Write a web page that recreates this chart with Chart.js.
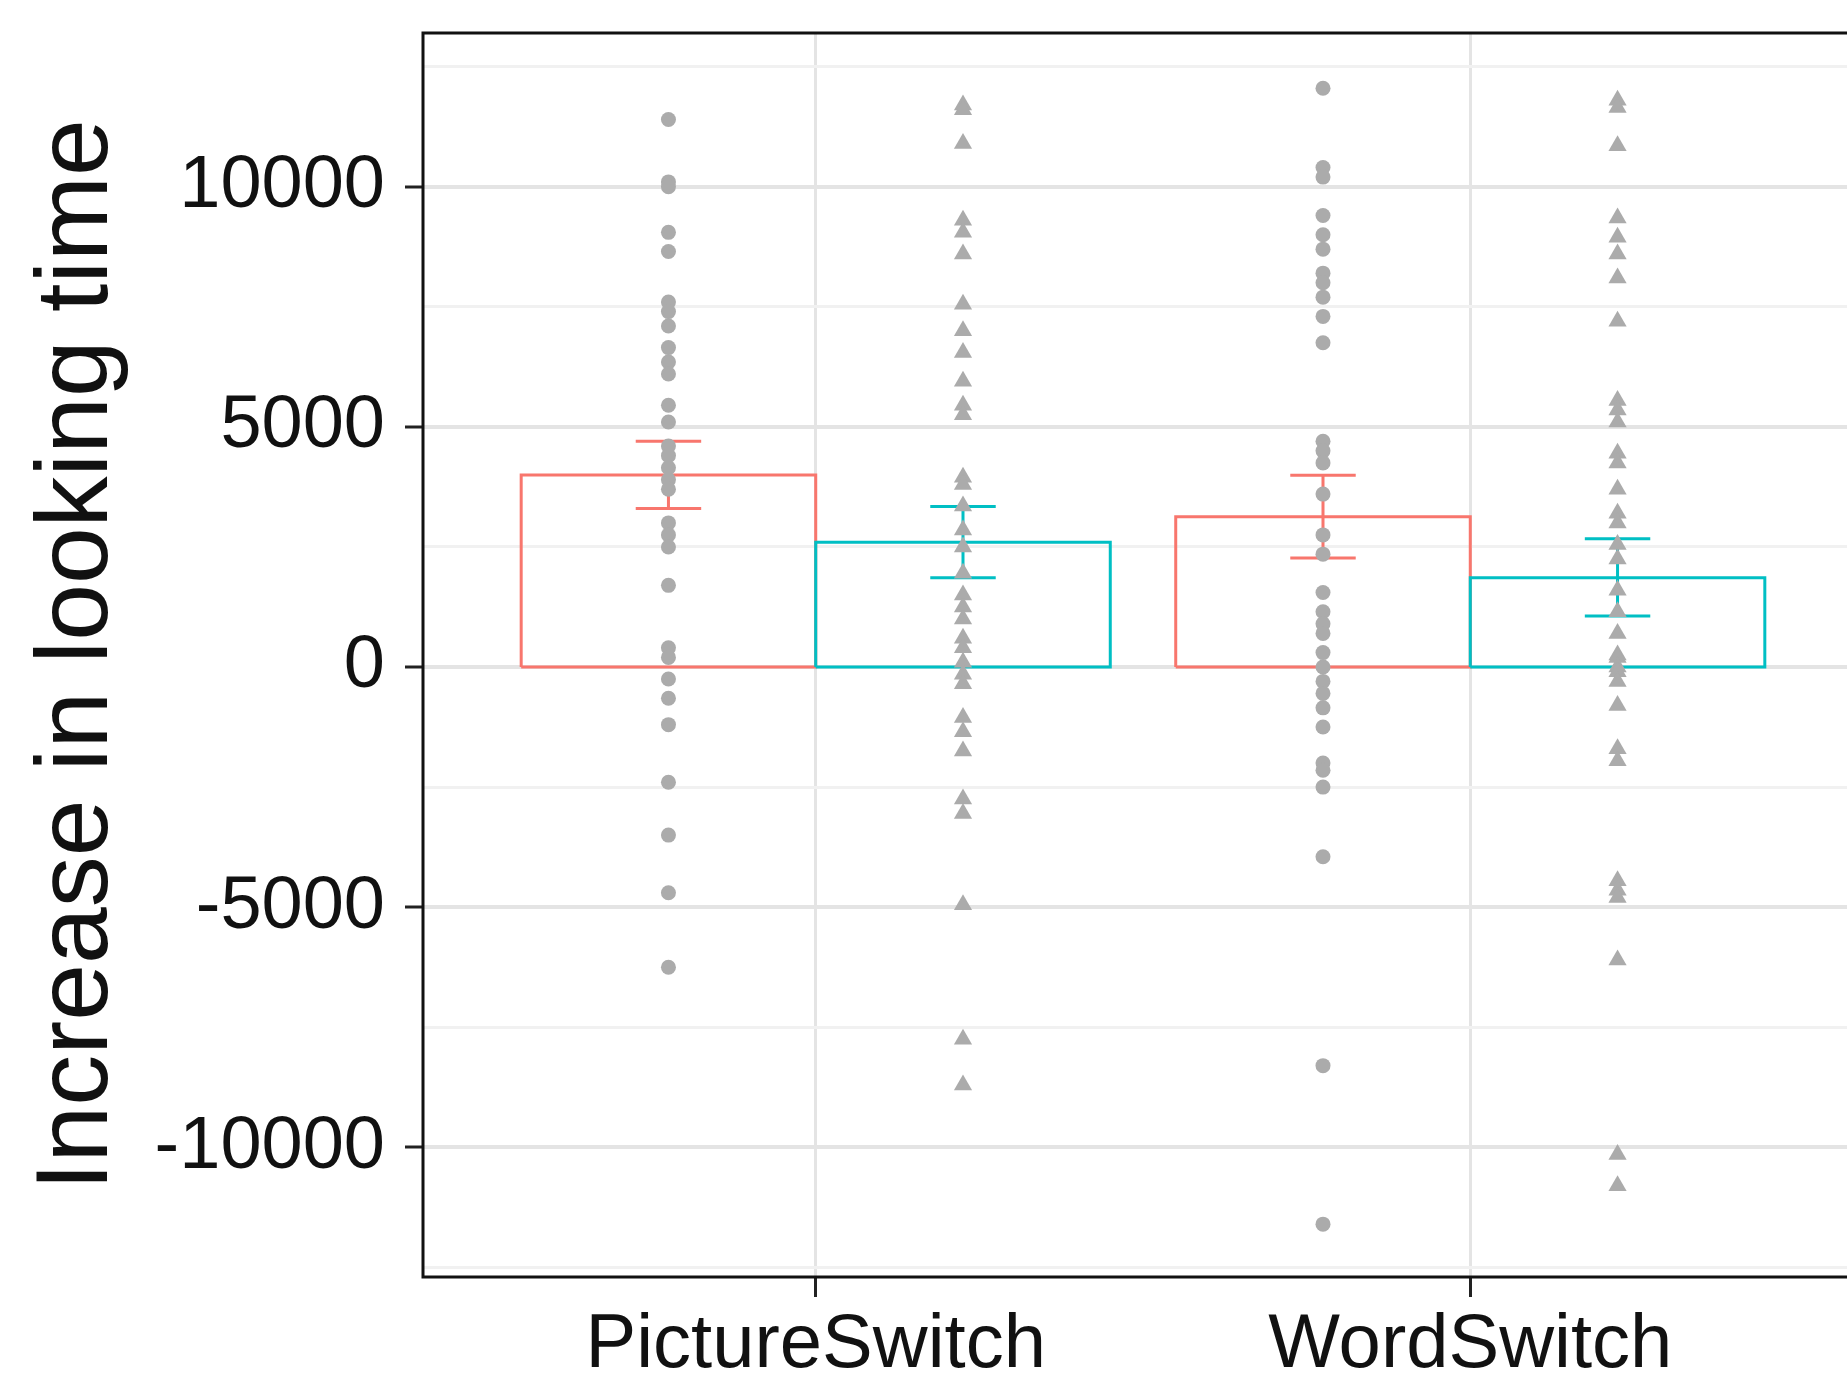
<!DOCTYPE html>
<html>
<head>
<meta charset="utf-8">
<script src="https://cdn.jsdelivr.net/npm/chart.js@4.4.1/dist/chart.umd.min.js"></script>
<style>
  html, body { margin: 0; padding: 0; background: #fff; overflow: hidden; }
  #wrap { width: 1880px; height: 1375px; }
</style>
</head>
<body>
<div id="wrap"><canvas id="chart" width="1880" height="1375"></canvas></div>
<script>
// categories on the x axis
const categories = ['PictureSwitch', 'WordSwitch'];
// y grid positions (labelled every 5000, minor lines between)
const yTicks = [-12500, -10000, -7500, -5000, -2500, 0, 2500, 5000, 7500, 10000, 12500];

// bar means and error bar ends (red = circles, cyan = triangles)
const meanRed = [4000, 3130];
const lowRed = [3300, 2270];
const highRed = [4700, 3990];
const meanCyan = [2600, 1860];
const lowCyan = [1860, 1060];
const highCyan = [3340, 2670];

const redPicture = [11400, 10100, 10000, 9050, 8650, 7600, 7400, 7100, 6650, 6350, 6100, 5450, 5100,
  4600, 4400, 4150, 3900, 3700, 3000, 2750, 2500, 1700, 400, 200, -250, -650, -1200, -2400, -3500, -4700, -6250];
const cyanPicture = [11700, 11600, 10900, 9300, 9050, 8600, 7550, 7000, 6550, 5950, 5450, 5250, 3950, 3800,
  3350, 2850, 2500, 1950, 1500, 1250, 1000, 600, 400, 100, -150, -350, -1050, -1350, -1750, -2750, -3050,
  -4950, -7750, -8700];
const redWord = [12050, 10400, 10200, 9400, 9000, 8700, 8200, 8000, 7700, 7300, 6750, 4700, 4500, 4250, 3600,
  2750, 2350, 1550, 1150, 900, 700, 300, 0, -300, -550, -850, -1250, -2000, -2150, -2500, -3950, -8300, -11600];
const cyanWord = [11800, 11650, 10850, 9350, 8950, 8600, 8100, 7200, 5550, 5350, 5100, 4450, 4250, 3700, 3200,
  3000, 2550, 2250, 1600, 1150, 700, 250, 200, 0, -100, -300, -800, -1700, -1950, -4450, -4650, -4800, -6100,
  -10150, -10800];

const RED = '#F8766D';
const CYAN = '#00BFC4';
const GREY_PT = '#ababab';
const FONT = "'Liberation Sans', Arial, sans-serif";

const dodge = 0.225;   // half of the bar width, in category units
const whisker = 0.05;  // half width of the error bar caps

// rectangle outline for one bar, built from its category index and mean
const barPath = (i, off, m) => {
  const x0 = i + 1 + off - dodge, x1 = i + 1 + off + dodge;
  return [{x: x0, y: 0}, {x: x0, y: m}, {x: x1, y: m}, {x: x1, y: 0}, {x: x0, y: 0}];
};
const errPath = (i, off, lo, hi) => {
  const x = i + 1 + off;
  return [{x: x - whisker, y: lo}, {x: x + whisker, y: lo}, {x: x, y: lo}, {x: x, y: hi},
    {x: x - whisker, y: hi}, {x: x + whisker, y: hi}];
};
const pts = (i, off, arr) => arr.map(v => ({x: i + 1 + off, y: v}));
const isMajor = v => v % 5000 === 0;

const datasets = [];
// points on top
[[0, -dodge, redPicture, 'circle'], [0, dodge, cyanPicture, 'triangle'],
 [1, -dodge, redWord, 'circle'], [1, dodge, cyanWord, 'triangle']].forEach(([i, off, arr, shape]) => {
  datasets.push({
    data: pts(i, off, arr), order: 0, pointStyle: shape,
    pointRadius: shape === 'circle' ? 7.5 : 10.5, pointBorderWidth: 0,
    pointBackgroundColor: GREY_PT, showLine: false
  });
});
// error bars
categories.forEach((c, i) => {
  datasets.push({ data: errPath(i, -dodge, lowRed[i], highRed[i]), order: 1, showLine: true,
    borderColor: RED, borderWidth: 3, pointRadius: 0, fill: false });
  datasets.push({ data: errPath(i, dodge, lowCyan[i], highCyan[i]), order: 1, showLine: true,
    borderColor: CYAN, borderWidth: 3, pointRadius: 0, fill: false });
});
// hollow bars (white fill hides the grid)
categories.forEach((c, i) => {
  datasets.push({ data: barPath(i, -dodge, meanRed[i]), order: 3, showLine: true,
    borderColor: RED, borderWidth: 3, pointRadius: 0, fill: 'origin', backgroundColor: '#fff' });
  datasets.push({ data: barPath(i, dodge, meanCyan[i]), order: 2, showLine: true,
    borderColor: CYAN, borderWidth: 3, pointRadius: 0, fill: 'origin', backgroundColor: '#fff' });
});

// black frame round the panel
const panelBorder = {
  id: 'panelBorder',
  afterDraw(chart) {
    const {ctx, chartArea: a} = chart;
    ctx.save();
    ctx.strokeStyle = '#111';
    ctx.lineWidth = 3;
    ctx.strokeRect(a.left, a.top, a.right - a.left, a.bottom - a.top);
    ctx.restore();
  }
};

new Chart(document.getElementById('chart'), {
  type: 'scatter',
  data: { datasets },
  plugins: [panelBorder],
  options: {
    responsive: false,
    animation: false,
    devicePixelRatio: 1,
    layout: { padding: { top: 33, right: 17, left: 0, bottom: 0 } },
    plugins: { legend: { display: false }, tooltip: { enabled: false } },
    elements: { line: { tension: 0 } },
    scales: {
      x: {
        type: 'linear', min: 0.4, max: 2.6,
        afterBuildTicks: s => { s.ticks = categories.map((c, i) => ({value: i + 1})); },
        afterFit: s => { s.height = 98; s.paddingLeft = 0; s.paddingRight = 0; },
        border: { display: false },
        grid: { color: '#e4e4e4', lineWidth: 3, tickLength: 20, tickColor: '#222', tickWidth: 3 },
        ticks: {
          autoSkip: false, maxRotation: 0, padding: 3, color: '#111',
          font: { family: FONT, size: 76 },
          callback: v => categories[v - 1] || ''
        }
      },
      y: {
        min: -12700, max: 13200,
        afterBuildTicks: s => { s.ticks = yTicks.map(v => ({value: v})); },
        afterFit: s => { s.width = 423; s.paddingTop = 0; s.paddingBottom = 0; },
        border: { display: false },
        grid: {
          color: c => c.tick && isMajor(c.tick.value) ? '#e4e4e4' : '#f1f1f1',
          lineWidth: c => c.tick && isMajor(c.tick.value) ? 4 : 3,
          tickLength: 18,
          tickColor: c => c.tick && isMajor(c.tick.value) ? '#222' : 'rgba(0,0,0,0)',
          tickWidth: 3
        },
        ticks: {
          autoSkip: false, padding: 20, color: '#111',
          font: { family: FONT, size: 74 },
          callback: v => isMajor(v) ? String(v) : ''
        },
        title: {
          display: true, text: 'Increase in looking time', color: '#111',
          font: { family: FONT, size: 102 }, padding: { top: 18, bottom: 0 }
        }
      }
    }
  }
});
</script>
</body>
</html>
